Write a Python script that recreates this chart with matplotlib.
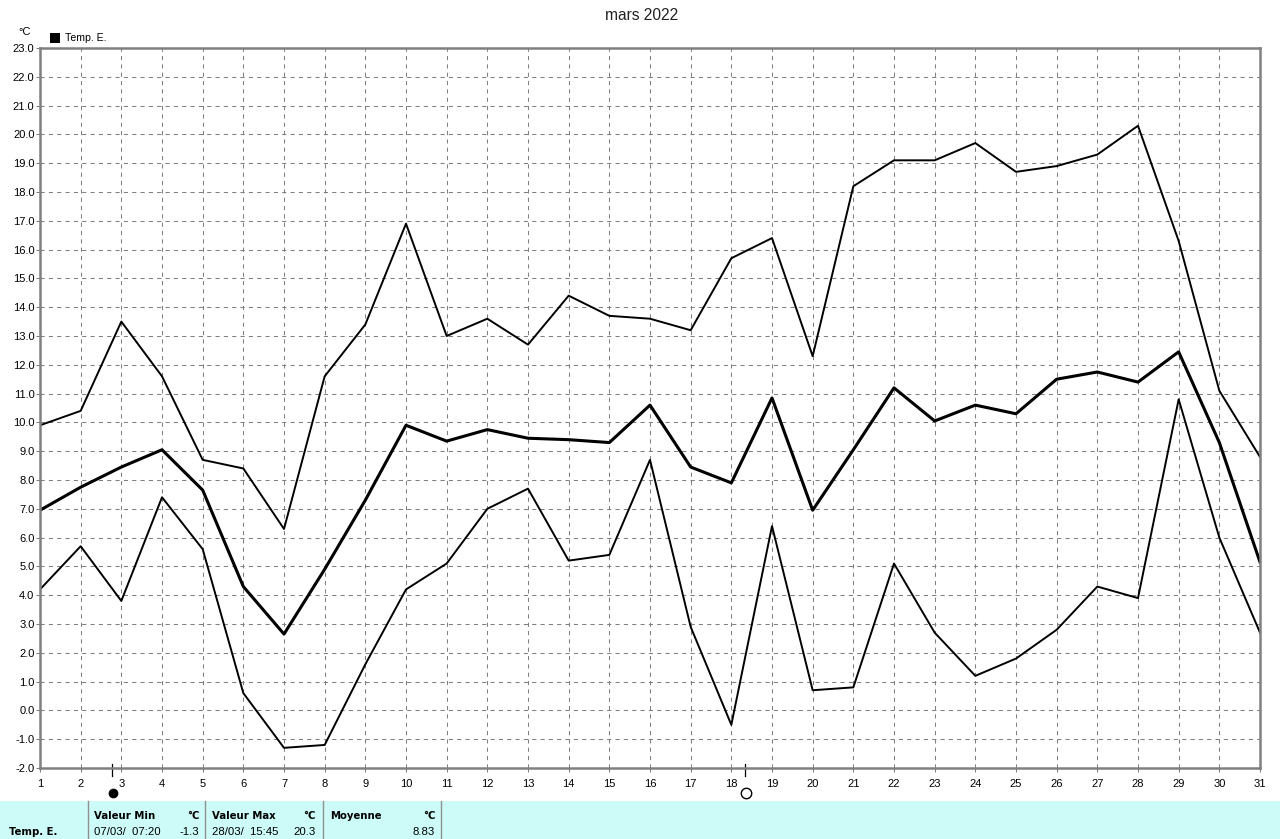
import matplotlib
matplotlib.use("Agg")
import matplotlib.pyplot as plt
from matplotlib.patches import Rectangle
from matplotlib.lines import Line2D

days = list(range(1, 32))
temp_max = [9.9,10.4,13.5,11.6,8.7,8.4,6.3,11.6,13.4,16.9,13.0,13.6,12.7,14.4,13.7,13.6,13.2,15.7,16.4,12.3,18.2,19.1,19.1,19.7,18.7,18.9,19.3,20.3,16.3,11.1,8.8]
temp_min = [4.2,5.7,3.8,7.4,5.6,0.6,-1.3,-1.2,1.6,4.2,5.1,7.0,7.7,5.2,5.4,8.7,2.9,-0.5,6.4,0.7,0.8,5.1,2.7,1.2,1.8,2.8,4.3,3.9,10.8,6.0,2.7]
temp_mean = [6.95,7.75,8.45,9.05,7.65,4.3,2.65,4.9,7.3,9.9,9.35,9.75,9.45,9.4,9.3,10.6,8.45,7.9,10.85,6.95,9.05,11.2,10.05,10.6,10.3,11.5,11.75,11.4,12.45,9.3,5.15]
yticks = [v - 2 for v in range(26)]
new_moon_day = 2.77
full_moon_day = 18.33
title = "mars 2022"
series_name = "Temp. E."
unit = "°C"

W, H = 1280, 839
plt.rcParams['font.family'] = ['Liberation Sans', 'DejaVu Sans']
fig = plt.figure(figsize=(W/100, H/100), dpi=100, facecolor='white')
L, R, T, B = 40, 1260, 48, 768
ax = fig.add_axes([L/W, 1-B/H, (R-L)/W, (B-T)/H])
ax.set_xlim(1, 31)
ax.set_ylim(-2, 23)
ax.set_xticks(days)
ax.set_yticks(yticks)
ax.set_xticklabels([str(d) for d in days], fontsize=8)
ax.set_yticklabels([f"{v:.1f}" for v in yticks], fontsize=8)
ax.tick_params(axis='x', length=3, width=0.75, color='#808080', pad=5)
ax.tick_params(axis='y', length=3, width=0.75, color='#808080', pad=1)
ax.grid(True, color='#808080', lw=0.75, ls=(0, (4, 4)))
ax.set_axisbelow(True)
for s in ax.spines.values():
    s.set_color('#808080')
    s.set_linewidth(1.8)

ax.plot(days, temp_max, color='black', lw=1.4)
ax.plot(days, temp_min, color='black', lw=1.4)
ax.plot(days, temp_mean, color='black', lw=2.2)

def fx(x): return x / W
def fy(y): return 1 - y / H

for d in (new_moon_day, full_moon_day):
    ax.plot([d, d], [0.006, -0.011], transform=ax.get_xaxis_transform(), color='black', lw=0.9, clip_on=False)

fig.add_artist(Line2D([fx(112.5)], [fy(793)], marker='o', ms=6.2, mfc='black', mec='black', mew=0.8, transform=fig.transFigure))
fig.add_artist(Line2D([fx(745.5)], [fy(793)], marker='o', ms=7.5, mfc='white', mec='black', mew=1, transform=fig.transFigure))

fig.text(fx(642), fy(15), title, ha='center', va='center', fontsize=11.2, color='#222222')
fig.text(fx(25), fy(32), unit, ha='center', va='center', fontsize=8)
fig.add_artist(Rectangle((fx(50), fy(43)), 10/W, 10/H, transform=fig.transFigure, fc='black', ec='none'))
fig.text(fx(65), fy(38), series_name, ha='left', va='center', fontsize=7.6)

fig.add_artist(Rectangle((0, 0), 1, 38/H, transform=fig.transFigure, fc='#CCFBF8', ec='none'))
for x in (88, 205, 323, 441):
    fig.add_artist(Line2D([fx(x), fx(x)], [0, fy(801)], color='#909090', lw=1, transform=fig.transFigure))

bold = dict(fontweight='bold', fontsize=7.3, va='center', family='DejaVu Sans')
norm = dict(fontsize=8.2, va='center')
fig.text(fx(9), fy(832), series_name, **bold)
fig.text(fx(94), fy(816), "Valeur Min", ha='left', **bold)
fig.text(fx(199), fy(816), unit, ha='right', **bold)
fig.text(fx(94), fy(832), "07/03/  07:20", ha='left', **norm)
fig.text(fx(199), fy(832), "-1.3", ha='right', **norm)
fig.text(fx(212), fy(816), "Valeur Max", ha='left', **bold)
fig.text(fx(316), fy(816), unit, ha='right', **bold)
fig.text(fx(212), fy(832), "28/03/  15:45", ha='left', **norm)
fig.text(fx(316), fy(832), "20.3", ha='right', **norm)
fig.text(fx(330), fy(816), "Moyenne", ha='left', **bold)
fig.text(fx(435), fy(816), unit, ha='right', **bold)
fig.text(fx(435), fy(832), "8.83", ha='right', **norm)

fig.savefig("out.png", dpi=100)
